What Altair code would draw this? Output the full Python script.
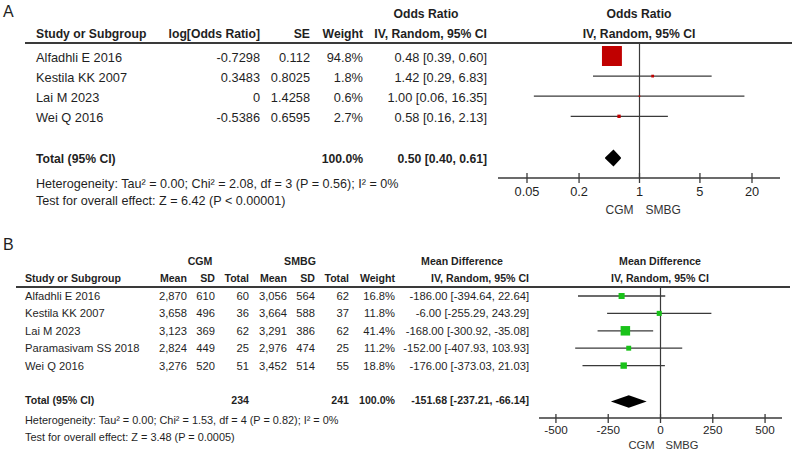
import altair as alt
import pandas as pd

FONT = "Liberation Sans"
INK = "#1f1f1f"
LINE = "#3a3a3a"
RED = "#c00000"
GREEN = "#19c219"

# ---------------- Panel A data ----------------
a_studies = ["Alfadhli E 2016", "Kestila KK 2007", "Lai M 2023", "Wei Q 2016"]
a_log_or = [-0.7298, 0.3483, 0, -0.5386]
a_se = [0.112, 0.8025, 1.4258, 0.6595]
a_weight = [94.8, 1.8, 0.6, 2.7]
a_or = [0.48, 1.42, 1.00, 0.58]
a_lo = [0.39, 0.29, 0.06, 0.16]
a_hi = [0.60, 6.83, 16.35, 2.13]
a_total = [0.50, 0.40, 0.61]
a_ticks = [0.05, 0.2, 1, 5, 20]
a_het = "Heterogeneity: Tau\u00b2 = 0.00; Chi\u00b2 = 2.08, df = 3 (P = 0.56); I\u00b2 = 0%"
a_test = "Test for overall effect: Z = 6.42 (P < 0.00001)"

# ---------------- Panel B data ----------------
b_studies = ["Alfadhli E 2016", "Kestila KK 2007", "Lai M 2023", "Paramasivam SS 2018", "Wei Q 2016"]
b_cgm_mean = [2870, 3658, 3123, 2824, 3276]
b_cgm_sd = [610, 496, 369, 449, 520]
b_cgm_n = [60, 36, 62, 25, 51]
b_smbg_mean = [3056, 3664, 3291, 2976, 3452]
b_smbg_sd = [564, 588, 386, 474, 514]
b_smbg_n = [62, 37, 62, 25, 55]
b_weight = [16.8, 11.8, 41.4, 11.2, 18.8]
b_md = [-186.00, -6.00, -168.00, -152.00, -176.00]
b_lo = [-394.64, -255.29, -300.92, -407.93, -373.03]
b_hi = [22.64, 243.29, -35.08, 103.93, 21.03]
b_total = [-151.68, -237.21, -66.14]
b_total_n = [234, 241]
b_ticks = [-500, -250, 0, 250, 500]
b_het = "Heterogeneity: Tau\u00b2 = 0.00; Chi\u00b2 = 1.53, df = 4 (P = 0.82); I\u00b2 = 0%"
b_test = "Test for overall effect: Z = 3.48 (P = 0.0005)"


def label(t, x, y, size, bold=False, align="left", color=INK):
    return alt.Chart(pd.DataFrame({"t": [t]})).mark_text(
        align=align, baseline="middle", font=FONT, fontSize=size,
        fontWeight="bold" if bold else "normal", color=color
    ).encode(x=alt.value(x), y=alt.value(y), text="t:N")


def column(df, field, x, yscale, size, bold=False, align="right"):
    return alt.Chart(df).mark_text(
        align=align, baseline="middle", font=FONT, fontSize=size,
        fontWeight="bold" if bold else "normal", color=INK
    ).encode(x=alt.value(x), y=alt.Y("row:Q", scale=yscale, axis=None), text=f"{field}:N")


def hrule(x1, x2, y, width=1.0):
    return alt.Chart(pd.DataFrame({"a": [0]})).mark_rule(color=LINE, strokeWidth=width).encode(
        x=alt.value(x1), x2=alt.value(x2), y=alt.value(y))


def ci_fmt(e, lo, hi):
    return f"{e:.2f} [{lo:.2f}, {hi:.2f}]"


# ================= Panel A =================
xA = alt.Scale(type="log", domain=[0.0231, 42.16], range=[498, 780], nice=False, zero=False)
yA = alt.Scale(domain=[0, 10], range=[58, 259], nice=False, zero=False)
RA, BA = 12.8, 12.2

dfA = pd.DataFrame({
    "row": list(range(len(a_studies))),
    "study": a_studies,
    "logor": [str(v) for v in a_log_or],
    "se": [str(v) for v in a_se],
    "wt": [f"{w:.1f}%" for w in a_weight],
    "ci": [ci_fmt(e, l, h) for e, l, h in zip(a_or, a_lo, a_hi)],
    "est": a_or, "lo": a_lo, "hi": a_hi, "w": a_weight,
})
totA = pd.DataFrame({"row": [5], "lab": ["Total (95% CI)"], "wt": ["100.0%"],
                     "ci": [ci_fmt(*a_total)]})
diaA = pd.DataFrame({"x": [a_total[1], a_total[0], a_total[2]],
                     "y": [5, 5 - 0.4, 5], "y2": [5, 5 + 0.4, 5]})

XA = lambda f: alt.X(f, scale=xA, axis=None)
YA = alt.Y("row:Q", scale=yA, axis=None)

layersA = [
    label("A", 3, 12, 16),
    label("Odds Ratio", 426, 14, BA, bold=True, align="center"),
    label("Odds Ratio", 639, 14, BA, bold=True, align="center"),
    label("Study or Subgroup", 36, 34, BA, bold=True),
    label("log[Odds Ratio]", 260, 34, BA, bold=True, align="right"),
    label("SE", 310, 34, BA, bold=True, align="right"),
    label("Weight", 363, 34, BA, bold=True, align="right"),
    label("IV, Random, 95% CI", 487, 34, BA, bold=True, align="right"),
    label("IV, Random, 95% CI", 639, 34, BA, bold=True, align="center"),
    hrule(25, 792, 43, 2),
    column(dfA, "study", 36, yA, RA, align="left"),
    column(dfA, "logor", 260, yA, RA),
    column(dfA, "se", 310, yA, RA),
    column(dfA, "wt", 363, yA, RA),
    column(dfA, "ci", 487, yA, RA),
    column(totA, "lab", 36, yA, BA, bold=True, align="left"),
    column(totA, "wt", 363, yA, BA, bold=True),
    column(totA, "ci", 487, yA, BA, bold=True),
    label(a_het, 36, 184, RA - 0.2),
    label(a_test, 36, 201, RA - 0.2),
    # reference line at OR = 1
    alt.Chart(pd.DataFrame({"v": [1]})).mark_rule(color=LINE, strokeWidth=1.2).encode(
        x=XA("v:Q"), y=alt.value(43), y2=alt.value(178)),
    # axis line, ticks, labels
    alt.Chart(pd.DataFrame({"lo": [xA.domain[0]], "hi": [xA.domain[1]]})).mark_rule(
        color=LINE, strokeWidth=1.5).encode(x=XA("lo:Q"), x2="hi:Q", y=alt.value(178)),
    alt.Chart(pd.DataFrame({"v": a_ticks})).mark_rule(color=LINE, strokeWidth=1.3).encode(
        x=XA("v:Q"), y=alt.value(173), y2=alt.value(183)),
    alt.Chart(pd.DataFrame({"v": a_ticks, "lab": [str(t) for t in a_ticks]})).mark_text(
        baseline="middle", font=FONT, fontSize=RA, color=INK).encode(
        x=XA("v:Q"), y=alt.value(192), text="lab:N"),
    alt.Chart(pd.DataFrame({"v": [1]})).mark_text(
        align="right", dx=-6, baseline="middle", font=FONT, fontSize=RA - 0.8, color="#333").encode(
        x=XA("v:Q"), y=alt.value(210), text=alt.value("CGM")),
    alt.Chart(pd.DataFrame({"v": [1]})).mark_text(
        align="left", dx=6, baseline="middle", font=FONT, fontSize=RA - 0.8, color="#333").encode(
        x=XA("v:Q"), y=alt.value(210), text=alt.value("SMBG")),
    # CIs, squares, diamond
    alt.Chart(dfA).mark_rule(color=LINE, strokeWidth=1.3, yOffset=-2).encode(
        x=XA("lo:Q"), x2="hi:Q", y=YA),
    alt.Chart(dfA).mark_square(filled=True, color=RED, opacity=1, yOffset=-2).encode(
        x=XA("est:Q"), y=YA,
        size=alt.Size("w:Q", scale=alt.Scale(domain=[0, 100], range=[0, 420]), legend=None)),
    alt.Chart(diaA).mark_area(color="black", orient="vertical", yOffset=-1).encode(
        x=XA("x:Q"), y=alt.Y("y:Q", scale=yA, axis=None), y2="y2:Q"),
]
panelA = alt.layer(*layersA).properties(width=794, height=228)

# ================= Panel B =================
xB = alt.Scale(domain=[-581, 581], range=[539, 782], nice=False, zero=False)
yB = alt.Scale(domain=[0, 10], range=[69, 243], nice=False, zero=False)
RB, BB = 11.2, 10.6

dfB = pd.DataFrame({
    "row": list(range(len(b_studies))),
    "study": b_studies,
    "m1": [f"{v:,}" for v in b_cgm_mean], "s1": [str(v) for v in b_cgm_sd], "n1": [str(v) for v in b_cgm_n],
    "m2": [f"{v:,}" for v in b_smbg_mean], "s2": [str(v) for v in b_smbg_sd], "n2": [str(v) for v in b_smbg_n],
    "wt": [f"{w:.1f}%" for w in b_weight],
    "ci": [ci_fmt(e, l, h) for e, l, h in zip(b_md, b_lo, b_hi)],
    "est": b_md, "lo": b_lo, "hi": b_hi, "w": b_weight,
})
totB = pd.DataFrame({"row": [6], "lab": ["Total (95% CI)"], "n1": [str(b_total_n[0])],
                     "n2": [str(b_total_n[1])], "wt": ["100.0%"], "ci": [ci_fmt(*b_total)]})
diaB = pd.DataFrame({"x": [b_total[1], b_total[0], b_total[2]],
                     "y": [6, 6 - 0.36, 6], "y2": [6, 6 + 0.36, 6]})

XB = lambda f: alt.X(f, scale=xB, axis=None)
YB = alt.Y("row:Q", scale=yB, axis=None)

layersB = [
    label("B", 3, 17, 16),
    label("CGM", 200, 34, BB, bold=True, align="center"),
    label("SMBG", 300, 34, BB, bold=True, align="center"),
    label("Mean Difference", 462, 34, BB, bold=True, align="center"),
    label("Mean Difference", 660, 34, BB, bold=True, align="center"),
    label("Study or Subgroup", 25, 51, BB, bold=True),
    label("Mean", 187, 51, BB, bold=True, align="right"),
    label("SD", 215, 51, BB, bold=True, align="right"),
    label("Total", 249, 51, BB, bold=True, align="right"),
    label("Mean", 287, 51, BB, bold=True, align="right"),
    label("SD", 315, 51, BB, bold=True, align="right"),
    label("Total", 349, 51, BB, bold=True, align="right"),
    label("Weight", 395, 51, BB, bold=True, align="right"),
    label("IV, Random, 95% CI", 529, 51, BB, bold=True, align="right"),
    label("IV, Random, 95% CI", 660, 51, BB, bold=True, align="center"),
    hrule(16, 790, 59, 2),
    column(dfB, "study", 25, yB, RB, align="left"),
    column(dfB, "m1", 187, yB, RB),
    column(dfB, "s1", 215, yB, RB),
    column(dfB, "n1", 249, yB, RB),
    column(dfB, "m2", 287, yB, RB),
    column(dfB, "s2", 315, yB, RB),
    column(dfB, "n2", 349, yB, RB),
    column(dfB, "wt", 395, yB, RB),
    column(dfB, "ci", 529, yB, RB),
    column(totB, "lab", 25, yB, BB, bold=True, align="left"),
    column(totB, "n1", 249, yB, BB, bold=True),
    column(totB, "n2", 349, yB, BB, bold=True),
    column(totB, "wt", 395, yB, BB, bold=True),
    column(totB, "ci", 529, yB, BB, bold=True),
    label(b_het, 25, 193, RB - 0.3),
    label(b_test, 25, 210, RB - 0.3),
    alt.Chart(pd.DataFrame({"v": [0]})).mark_rule(color=LINE, strokeWidth=1.2).encode(
        x=XB("v:Q"), y=alt.value(59), y2=alt.value(190)),
    alt.Chart(pd.DataFrame({"lo": [xB.domain[0]], "hi": [xB.domain[1]]})).mark_rule(
        color=LINE, strokeWidth=1.5).encode(x=XB("lo:Q"), x2="hi:Q", y=alt.value(190)),
    alt.Chart(pd.DataFrame({"v": b_ticks})).mark_rule(color=LINE, strokeWidth=1.3).encode(
        x=XB("v:Q"), y=alt.value(186), y2=alt.value(195)),
    alt.Chart(pd.DataFrame({"v": b_ticks, "lab": [str(t) for t in b_ticks]})).mark_text(
        baseline="middle", font=FONT, fontSize=RB + 0.5, color=INK).encode(
        x=XB("v:Q"), y=alt.value(202), text="lab:N"),
    alt.Chart(pd.DataFrame({"v": [0]})).mark_text(
        align="right", dx=-6, baseline="middle", font=FONT, fontSize=RB, color="#333").encode(
        x=XB("v:Q"), y=alt.value(218), text=alt.value("CGM")),
    alt.Chart(pd.DataFrame({"v": [0]})).mark_text(
        align="left", dx=5, baseline="middle", font=FONT, fontSize=RB, color="#333").encode(
        x=XB("v:Q"), y=alt.value(218), text=alt.value("SMBG")),
    alt.Chart(dfB).mark_rule(color=LINE, strokeWidth=1.3, yOffset=-1).encode(
        x=XB("lo:Q"), x2="hi:Q", y=YB),
    alt.Chart(dfB).mark_square(filled=True, color=GREEN, opacity=1, yOffset=-1).encode(
        x=XB("est:Q"), y=YB,
        size=alt.Size("w:Q", scale=alt.Scale(domain=[0, 100], range=[0, 218]), legend=None)),
    alt.Chart(diaB).mark_area(color="black", orient="vertical").encode(
        x=XB("x:Q"), y=alt.Y("y:Q", scale=yB, axis=None), y2="y2:Q"),
]
panelB = alt.layer(*layersB).properties(width=794, height=225)

chart = alt.vconcat(panelA, panelB, spacing=0).resolve_scale(
    x="independent", y="independent", size="independent"
).properties(padding=0, background="white").configure_view(stroke=None)

chart.save("out.html", embed_options={"renderer": "svg", "actions": False})
